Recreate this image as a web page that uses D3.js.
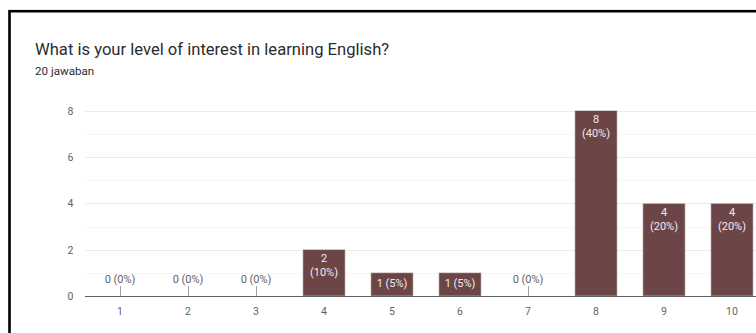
<!DOCTYPE html>
<html>
<head>
<meta charset="utf-8">
<script src="https://cdn.jsdelivr.net/npm/d3@7"></script>
<style>
  html, body { margin: 0; padding: 0; background: #fff; }
  svg { display: block; font-family: Roboto, "Noto Sans", Arial, sans-serif; }
</style>
</head>
<body>
<svg id="chart" width="756" height="333"></svg>
<script>
// Response counts for the 1–10 interest scale
const categories = ["1", "2", "3", "4", "5", "6", "7", "8", "9", "10"];
const counts = [0, 0, 0, 2, 1, 1, 0, 8, 4, 4];
const yTicks = [0, 2, 4, 6, 8];
const minorTicks = [1, 3, 5, 7];
const titleText = "What is your level of interest in learning English?";
const subtitleText = "20 jawaban";

const total = d3.sum(counts);
const svg = d3.select("#chart");

// card frame
svg.append("rect")
  .attr("x", 9.5).attr("y", 11.2)
  .attr("width", 800).attr("height", 400)
  .attr("fill", "#fff")
  .attr("stroke", "#000").attr("stroke-width", 2.6);

svg.append("text")
  .attr("x", 35).attr("y", 55)
  .attr("font-size", 16.6).attr("fill", "#2b2c2f")
  .text(titleText);

svg.append("text")
  .attr("x", 35).attr("y", 75)
  .attr("font-size", 11.6).attr("fill", "#2b2c2f")
  .text(subtitleText);

const x = d3.scaleBand()
  .domain(categories)
  .range([86, 766])
  .paddingInner(0.38)
  .paddingOuter(0.19);

const y = d3.scaleLinear().domain([0, 8]).range([296, 110.7]);

// gridlines
svg.append("g").selectAll("line").data(minorTicks).join("line")
  .attr("x1", 85).attr("x2", 756)
  .attr("y1", d => Math.round(y(d)) + 0.5).attr("y2", d => Math.round(y(d)) + 0.5)
  .attr("stroke", "#f6f6f6");
svg.append("g").selectAll("line").data(yTicks.filter(d => d > 0)).join("line")
  .attr("x1", 85).attr("x2", 756)
  .attr("y1", d => Math.round(y(d)) + 0.5).attr("y2", d => Math.round(y(d)) + 0.5)
  .attr("stroke", "#ebebeb");

// y axis labels
const yAxis = d3.axisLeft(y).tickValues(yTicks).tickSize(0).tickPadding(0);
svg.append("g")
  .attr("transform", "translate(73.5,0)")
  .call(yAxis)
  .call(g => g.select(".domain").remove())
  .call(g => g.selectAll("text")
    .attr("font-size", 10.5).attr("fill", "#5f6368")
    .attr("font-family", "Roboto, 'Noto Sans', Arial, sans-serif"));

// bars
svg.append("g").selectAll("rect").data(counts).join("rect")
  .attr("x", (d, i) => x(categories[i]))
  .attr("y", d => y(d))
  .attr("width", x.bandwidth())
  .attr("height", d => y(0) - y(d))
  .attr("fill", "#6c4646")
  .attr("stroke", "#d9cccc").attr("stroke-width", 0.6)
  .attr("display", d => d > 0 ? null : "none");

// baseline
svg.append("line")
  .attr("x1", 85).attr("x2", 756)
  .attr("y1", y(0) + 0.5).attr("y2", y(0) + 0.5)
  .attr("stroke", "#5f6368").attr("stroke-width", 1);

// x axis labels
const xAxis = d3.axisBottom(x).tickSize(0).tickPadding(0);
svg.append("g")
  .attr("transform", `translate(0,${y(0) + 19})`)
  .call(xAxis)
  .call(g => g.select(".domain").remove())
  .call(g => g.selectAll("text")
    .attr("dy", 0)
    .attr("font-size", 10.5).attr("fill", "#5f6368")
    .attr("font-family", "Roboto, 'Noto Sans', Arial, sans-serif"));

// value labels
const labels = svg.append("g").attr("font-size", 11).attr("text-anchor", "middle");
counts.forEach((v, i) => {
  const cx = x(categories[i]) + x.bandwidth() / 2;
  const pct = Math.round(v / total * 100) + "%";
  if (v === 0) {
    labels.append("line")
      .attr("x1", cx + 0.5).attr("x2", cx + 0.5)
      .attr("y1", y(0) - 10).attr("y2", y(0))
      .attr("stroke", "#9aa0a6");
    labels.append("text")
      .attr("x", cx).attr("y", y(0) - 13)
      .attr("fill", "#5f6368")
      .text(`${v} (${pct})`);
  } else if (y(0) - y(v) > 30) {
    labels.append("text")
      .attr("x", cx).attr("y", y(v) + 12.5)
      .attr("fill", "#f1eaea")
      .text(v);
    labels.append("text")
      .attr("x", cx).attr("y", y(v) + 26.5)
      .attr("fill", "#f1eaea")
      .text(`(${pct})`);
  } else {
    labels.append("text")
      .attr("x", cx).attr("y", y(v) + 14.5)
      .attr("fill", "#f1eaea")
      .text(`${v} (${pct})`);
  }
});
</script>
</body>
</html>
